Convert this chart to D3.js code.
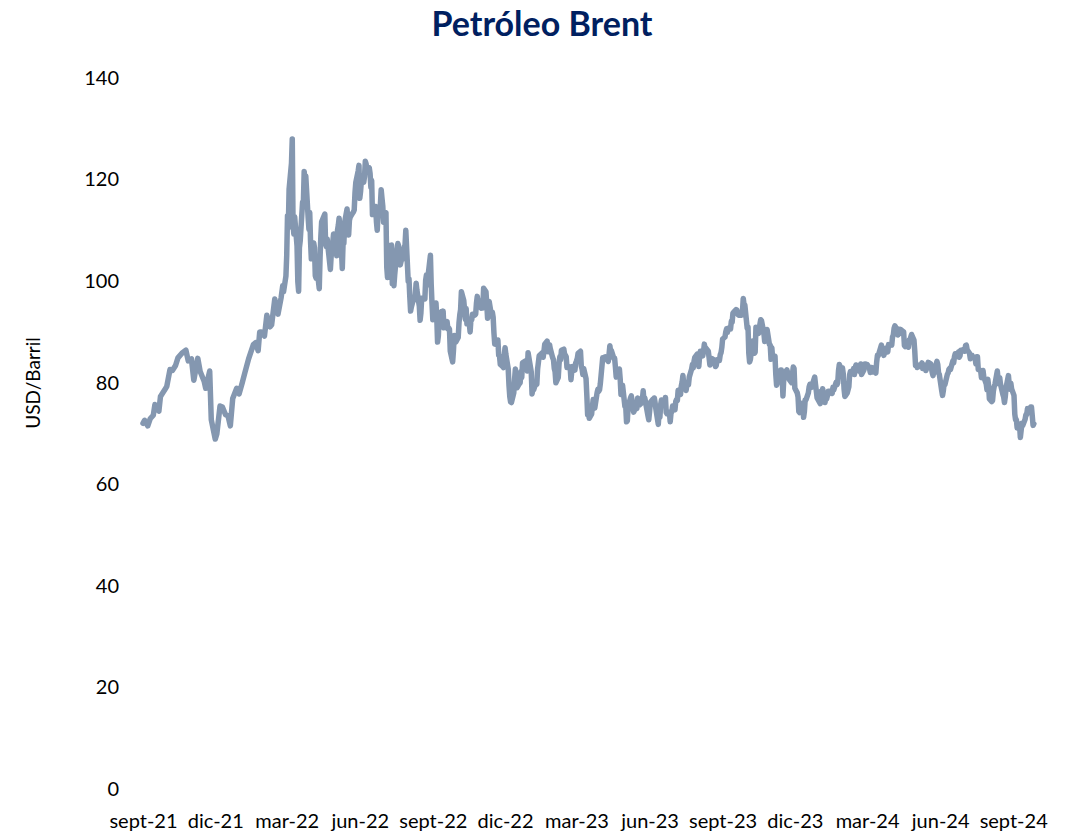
<!DOCTYPE html>
<html><head><meta charset="utf-8">
<script src="https://cdn.jsdelivr.net/npm/d3@7"></script>
<style>
html,body{margin:0;padding:0;background:#fff;}
svg{display:block;font-family:Lato,"Open Sans",sans-serif;}
</style></head>
<body><svg id="chart" width="1076" height="835"></svg>
<script>
const title = "Petróleo Brent";
const yTitle = "USD/Barril";
const yTicks = [0,20,40,60,80,100,120,140];
const xTickDates = ["2021-09-01","2021-12-01","2022-03-01","2022-06-01","2022-09-01","2022-12-01","2023-03-01","2023-06-01","2023-09-01","2023-12-01","2024-03-01","2024-06-01","2024-09-01"];
const xTickLabels = ["sept-21","dic-21","mar-22","jun-22","sept-22","dic-22","mar-23","jun-23","sept-23","dic-23","mar-24","jun-24","sept-24"];

const brent2021 = [["09-01",72.0],["09-03",72.6],["09-07",71.5],["09-10",72.9],["09-14",73.6],["09-16",75.7],["09-21",74.4],["09-23",77.3],["09-28",78.5],
["10-01",79.3],["10-05",82.6],["10-08",82.4],["10-12",83.4],["10-15",84.9],["10-20",85.8],["10-25",86.4],["10-28",84.3],
["11-01",84.7],["11-04",80.5],["11-09",84.8],["11-12",82.2],["11-17",80.3],["11-19",78.9],["11-24",82.3],["11-26",72.7],
["12-01",68.9],["12-03",69.9],["12-07",75.4],["12-10",75.2],["12-14",73.7],["12-17",73.5],["12-20",71.5],["12-23",76.9],["12-28",78.9],["12-31",77.8]];

const brent2022 = [["01-04",80.0],["01-07",81.8],["01-12",84.7],["01-18",87.5],["01-21",87.9],["01-24",86.3],["01-26",90.0],["01-28",90.0],
["02-01",89.2],["02-04",93.3],["02-08",91.0],["02-10",91.4],["02-14",96.5],["02-16",94.8],["02-18",93.5],["02-22",96.8],["02-24",99.1],["02-25",97.9],["02-28",101.0],
["03-01",105.0],["03-02",112.9],["03-03",110.5],["03-04",118.1],["03-07",123.2],["03-08",128.0],["03-09",111.1],["03-10",109.3],["03-11",112.7],["03-14",106.9],["03-15",99.9],["03-16",98.0],["03-17",106.6],["03-18",107.9],["03-21",115.6],["03-22",115.5],["03-23",121.6],["03-24",119.0],["03-25",120.7],["03-28",112.5],["03-29",110.2],["03-30",113.5],["03-31",107.9],
["04-01",104.4],["04-04",107.5],["04-05",106.6],["04-06",101.1],["04-07",100.6],["04-08",102.8],["04-11",98.5],["04-12",104.6],["04-13",108.8],["04-14",111.7],["04-18",113.2],["04-19",107.3],["04-20",106.8],["04-21",108.3],["04-22",106.7],["04-25",102.3],["04-26",105.0],["04-27",105.3],["04-28",107.6],["04-29",109.3],
["05-02",107.6],["05-03",105.0],["05-04",110.1],["05-05",111.0],["05-06",112.4],["05-09",105.9],["05-10",102.5],["05-11",107.5],["05-12",107.5],["05-13",111.6],["05-16",114.2],["05-17",111.9],["05-18",109.1],["05-19",112.0],["05-20",112.6],["05-23",113.4],["05-24",113.6],["05-25",114.0],["05-26",117.4],["05-27",119.4],["05-30",121.7],["05-31",122.8],
["06-01",116.3],["06-02",117.6],["06-03",119.7],["06-06",119.5],["06-07",120.6],["06-08",123.6],["06-09",123.1],["06-10",122.0],["06-13",122.3],["06-14",121.2],["06-15",118.5],["06-16",119.8],["06-17",113.1],["06-20",114.1],["06-21",114.7],["06-22",111.7],["06-23",110.0],["06-24",113.1],["06-27",115.1],["06-28",118.0],["06-29",116.3],["06-30",114.8],
["07-01",111.6],["07-04",113.5],["07-05",102.8],["07-06",100.7],["07-07",104.7],["07-08",107.0],["07-11",107.1],["07-12",99.5],["07-13",99.6],["07-14",99.1],["07-15",101.2],["07-18",106.3],["07-19",107.4],["07-20",106.9],["07-21",103.9],["07-22",103.2],["07-25",105.2],["07-26",104.4],["07-27",106.6],["07-28",107.1],["07-29",110.0],
["08-01",100.0],["08-02",100.5],["08-03",97.0],["08-04",94.1],["08-05",94.9],["08-08",96.7],["08-09",96.3],["08-10",97.4],["08-11",99.6],["08-12",98.2],["08-15",95.1],["08-16",92.3],["08-17",93.7],["08-18",96.6],["08-19",96.7],["08-22",96.5],["08-23",100.2],["08-24",101.2],["08-25",99.3],["08-26",101.0],["08-29",105.1],["08-30",99.3],["08-31",95.6],
["09-01",92.4],["09-02",93.0],["09-05",95.7],["09-06",92.8],["09-07",88.0],["09-08",89.2],["09-09",92.8],["09-12",94.0],["09-13",93.2],["09-14",94.1],["09-15",90.8],["09-16",91.4],["09-19",92.0],["09-20",90.6],["09-21",90.8],["09-22",90.5],["09-23",86.2],["09-26",84.1],["09-27",86.3],["09-28",89.3],["09-29",88.5],["09-30",88.0],
["10-03",88.9],["10-04",91.8],["10-05",93.4],["10-06",94.4],["10-07",97.9],["10-10",96.2],["10-11",94.3],["10-12",92.5],["10-13",94.6],["10-14",91.6],["10-17",91.6],["10-18",90.0],["10-19",92.4],["10-20",92.4],["10-21",93.5],["10-24",93.3],["10-25",93.5],["10-26",95.7],["10-27",97.0],["10-28",95.8],["10-31",94.8],
["11-01",94.7],["11-02",96.2],["11-03",94.7],["11-04",98.6],["11-07",97.9],["11-08",95.4],["11-09",92.7],["11-10",93.7],["11-11",96.0],["11-14",93.1],["11-15",93.9],["11-16",92.9],["11-17",89.8],["11-18",87.6],["11-21",87.5],["11-22",88.4],["11-23",85.4],["11-24",85.3],["11-25",83.6],["11-28",83.2],["11-29",83.0],["11-30",85.4],
["12-01",86.9],["12-02",85.6],["12-05",82.7],["12-06",79.4],["12-07",77.2],["12-08",76.2],["12-09",76.1],["12-12",78.0],["12-13",80.7],["12-14",82.7],["12-15",81.2],["12-16",79.0],["12-19",79.8],["12-20",80.0],["12-21",82.2],["12-22",81.0],["12-23",83.9],["12-27",84.3],["12-28",83.3],["12-29",82.3],["12-30",85.9]];

const brent2023 = [["01-03",82.1],["01-04",77.8],["01-05",78.7],["01-06",78.6],["01-09",80.0],["01-10",79.7],["01-11",82.7],["01-12",84.0],["01-13",85.3],["01-17",85.9],["01-18",85.0],["01-19",86.2],["01-20",87.6],["01-23",88.2],["01-24",86.1],["01-25",86.1],["01-26",87.5],["01-27",86.7],["01-30",84.9],["01-31",84.5],
["02-01",82.8],["02-02",82.2],["02-03",80.0],["02-06",81.0],["02-07",83.7],["02-08",85.1],["02-09",84.5],["02-10",86.4],["02-13",86.6],["02-14",85.6],["02-15",85.4],["02-16",85.1],["02-17",83.0],["02-21",83.1],["02-22",80.6],["02-23",82.2],["02-24",83.2],["02-27",82.5],["02-28",83.9],
["03-01",84.3],["03-02",84.8],["03-03",85.8],["03-06",86.2],["03-07",83.3],["03-08",82.7],["03-09",81.6],["03-10",82.8],["03-13",80.8],["03-14",77.5],["03-15",73.7],["03-16",74.7],["03-17",73.0],["03-20",73.8],["03-21",75.3],["03-22",76.7],["03-23",75.9],["03-24",75.0],["03-27",78.1],["03-28",78.7],["03-29",78.3],["03-30",78.6],["03-31",79.8],
["04-03",84.9],["04-04",84.9],["04-05",85.0],["04-06",85.1],["04-10",84.2],["04-11",85.6],["04-12",87.3],["04-13",86.1],["04-14",86.3],["04-17",84.8],["04-18",84.8],["04-19",83.1],["04-20",81.1],["04-21",81.7],["04-24",82.7],["04-25",80.8],["04-26",77.7],["04-27",78.4],["04-28",79.5],
["05-01",75.3],["05-02",75.3],["05-03",72.3],["05-04",72.5],["05-05",75.3],["05-08",77.0],["05-09",77.4],["05-10",76.4],["05-11",75.0],["05-12",74.2],["05-15",75.2],["05-16",74.9],["05-17",77.0],["05-18",75.9],["05-19",75.6],["05-22",76.0],["05-23",76.8],["05-24",78.4],["05-25",76.3],["05-26",77.0],["05-30",73.5],["05-31",72.7],
["06-01",74.3],["06-02",76.1],["06-05",76.7],["06-06",76.3],["06-07",77.0],["06-08",76.0],["06-09",74.8],["06-12",71.8],["06-13",74.3],["06-14",73.2],["06-15",75.7],["06-16",76.6],["06-19",76.1],["06-20",75.9],["06-21",77.1],["06-22",74.1],["06-23",73.9],["06-26",74.2],["06-27",72.3],["06-28",74.0],["06-29",74.3],["06-30",75.4],
["07-03",74.7],["07-04",76.3],["07-05",76.7],["07-06",76.5],["07-07",78.5],["07-10",77.7],["07-11",79.4],["07-12",80.1],["07-13",81.4],["07-14",79.9],["07-17",78.5],["07-18",79.6],["07-19",79.5],["07-20",79.6],["07-21",81.1],["07-24",82.7],["07-25",83.6],["07-26",82.9],["07-27",84.2],["07-28",85.0],["07-31",85.6],
["08-01",84.9],["08-02",83.2],["08-03",85.1],["08-04",86.2],["08-07",85.3],["08-08",86.2],["08-09",87.6],["08-10",86.4],["08-11",86.8],["08-14",86.2],["08-15",84.9],["08-16",83.5],["08-17",84.1],["08-18",84.8],["08-21",84.5],["08-22",84.0],["08-23",83.2],["08-24",83.4],["08-25",84.5],["08-28",84.4],["08-29",85.5],["08-30",85.9],["08-31",86.9],
["09-01",88.6],["09-04",89.0],["09-05",90.0],["09-06",90.6],["09-07",89.9],["09-08",90.7],["09-11",90.6],["09-12",92.1],["09-13",91.9],["09-14",93.7],["09-15",93.9],["09-18",94.4],["09-19",94.3],["09-20",93.5],["09-21",93.3],["09-22",93.3],["09-25",93.3],["09-26",94.0],["09-27",96.6],["09-28",95.4],["09-29",95.3],
["10-02",90.7],["10-03",91.0],["10-04",85.8],["10-05",84.1],["10-06",84.6],["10-09",88.2],["10-10",87.7],["10-11",85.8],["10-12",86.0],["10-13",90.9],["10-16",89.7],["10-17",89.9],["10-18",91.5],["10-19",92.4],["10-20",92.2],["10-23",89.8],["10-24",88.1],["10-25",90.1],["10-26",88.9],["10-27",90.5],["10-30",87.5],["10-31",87.4],
["11-01",84.6],["11-02",86.9],["11-03",84.9],["11-06",85.2],["11-07",81.6],["11-08",79.5],["11-09",80.0],["11-10",81.4],["11-13",82.5],["11-14",82.5],["11-15",81.2],["11-16",77.4],["11-17",80.6],["11-20",82.3],["11-21",82.5],["11-22",82.0],["11-23",81.4],["11-24",80.6],["11-27",80.0],["11-28",81.7],["11-29",83.1],["11-30",82.8],
["12-01",78.9],["12-04",78.0],["12-05",77.2],["12-06",74.3],["12-07",74.1],["12-08",75.8],["12-11",76.0],["12-12",73.2],["12-13",74.3],["12-14",76.6],["12-15",76.6],["12-18",78.0],["12-19",79.2],["12-20",79.7],["12-21",79.4],["12-22",79.1],["12-26",81.1],["12-27",79.7],["12-28",78.4],["12-29",77.0]];

const brent2024 = [["01-02",75.9],["01-03",78.3],["01-04",77.6],["01-05",78.8],["01-08",76.1],["01-09",77.6],["01-10",76.8],["01-11",77.4],["01-12",78.3],["01-16",78.3],["01-17",77.9],["01-18",79.1],["01-19",78.6],["01-22",80.1],["01-23",79.6],["01-24",80.0],["01-25",82.4],["01-26",83.6],["01-29",82.4],["01-30",82.9],["01-31",81.7],
["02-01",78.7],["02-02",77.3],["02-05",78.0],["02-06",78.6],["02-07",79.2],["02-08",81.6],["02-09",82.2],["02-12",82.0],["02-13",82.8],["02-14",81.6],["02-15",82.9],["02-16",83.5],["02-20",82.3],["02-21",83.0],["02-22",83.7],["02-23",81.6],["02-26",82.5],["02-27",83.7],["02-28",83.7],["02-29",83.6],
["03-01",83.6],["03-04",82.8],["03-05",82.0],["03-06",83.0],["03-07",83.0],["03-08",82.1],["03-11",82.2],["03-12",81.9],["03-13",84.0],["03-14",85.4],["03-15",85.3],["03-18",86.9],["03-19",87.4],["03-20",86.0],["03-21",85.8],["03-22",85.4],["03-25",86.8],["03-26",86.3],["03-27",86.1],["03-28",87.5],
["04-01",87.4],["04-02",89.0],["04-03",89.4],["04-04",90.7],["04-05",91.2],["04-08",90.4],["04-09",89.4],["04-10",90.5],["04-11",89.7],["04-12",90.5],["04-15",90.1],["04-16",90.0],["04-17",87.3],["04-18",87.1],["04-19",87.3],["04-22",87.0],["04-23",88.4],["04-24",88.0],["04-25",89.0],["04-26",89.5],["04-29",88.4],["04-30",86.3],
["05-01",83.4],["05-02",83.7],["05-03",83.0],["05-06",83.3],["05-07",83.2],["05-08",83.6],["05-09",83.9],["05-10",82.8],["05-13",83.4],["05-14",82.4],["05-15",82.8],["05-16",83.3],["05-17",84.0],["05-20",83.7],["05-21",82.9],["05-22",82.0],["05-23",81.4],["05-24",82.1],["05-28",84.2],["05-29",83.6],["05-30",81.9],["05-31",81.6],
["06-03",78.4],["06-04",77.5],["06-05",78.4],["06-06",79.9],["06-07",79.6],["06-10",81.6],["06-11",81.9],["06-12",82.6],["06-13",82.8],["06-14",82.6],["06-17",84.3],["06-18",83.9],["06-19",85.1],["06-20",85.7],["06-21",85.2],["06-24",86.0],["06-25",85.0],["06-26",85.3],["06-27",86.4],["06-28",86.4],
["07-01",86.6],["07-02",86.2],["07-03",87.3],["07-04",87.4],["07-05",86.5],["07-08",85.8],["07-09",84.7],["07-10",85.1],["07-11",85.4],["07-12",85.0],["07-15",84.9],["07-16",83.7],["07-17",85.1],["07-18",85.1],["07-19",82.6],["07-22",82.4],["07-23",81.0],["07-24",81.7],["07-25",82.4],["07-26",81.1],["07-29",79.8],["07-30",78.6],["07-31",80.7],
["08-01",79.5],["08-02",76.8],["08-05",76.3],["08-06",76.5],["08-07",78.3],["08-08",79.2],["08-09",79.7],["08-12",82.3],["08-13",80.7],["08-14",79.8],["08-15",81.0],["08-16",79.7],["08-19",77.7],["08-20",77.2],["08-21",76.1],["08-22",77.2],["08-23",79.0],["08-26",81.4],["08-27",79.6],["08-28",78.7],["08-29",79.9],["08-30",78.8],
["09-02",77.5],["09-03",73.8],["09-04",72.7],["09-05",72.7],["09-06",71.1],["09-09",71.8],["09-10",69.2],["09-11",70.6],["09-12",72.0],["09-13",71.6],["09-16",72.8],["09-17",73.7],["09-18",73.7],["09-19",74.9],["09-20",74.5],["09-23",75.2],["09-24",75.2],["09-25",73.5],["09-26",71.6],["09-27",71.9]];

const parse = d3.utcParse("%Y-%m-%d");
const series = [];
[[2021,brent2021],[2022,brent2022],[2023,brent2023],[2024,brent2024]].forEach(([yr,arr])=>{
  arr.forEach(([md,v])=>series.push({date:parse(yr+"-"+md),value:v}));
});

const svg = d3.select("#chart");
const x = d3.scaleUtc().domain([parse("2021-09-01"),parse("2024-09-01")]).range([143,1013.2]);
const y = d3.scaleLinear().domain([0,140]).range([789,78]);

svg.append("text").attr("x",542).attr("y",36).attr("text-anchor","middle")
  .attr("font-size",34).attr("font-weight","bold").attr("fill","#002060").text(title);

const ya = svg.append("g").attr("transform","translate(120,0)")
  .call(d3.axisLeft(y).tickValues(yTicks).tickSize(0).tickPadding(1));
ya.select(".domain").remove();
ya.selectAll("text").attr("font-size",20).attr("fill","#000").attr("font-family","Lato, 'Open Sans', sans-serif");

const xa = svg.append("g").attr("transform","translate(0,800)")
  .call(d3.axisBottom(x).tickValues(xTickDates.map(parse)).tickFormat((d,i)=>xTickLabels[i]).tickSize(0).tickPadding(14));
xa.select(".domain").remove();
xa.selectAll("text").attr("font-size",20).attr("fill","#000").attr("font-family","Lato, 'Open Sans', sans-serif");

svg.append("text").attr("transform","translate(40,383) rotate(-90)").attr("text-anchor","middle")
  .attr("font-size",19).attr("fill","#000").text(yTitle);

const line = d3.line().x(d=>x(d.date)).y(d=>y(d.value));
svg.append("path").datum(series).attr("d",line).attr("fill","none")
  .attr("stroke","#8497b0").attr("stroke-width",5.5).attr("stroke-linejoin","round").attr("stroke-linecap","round");
</script></body></html>
